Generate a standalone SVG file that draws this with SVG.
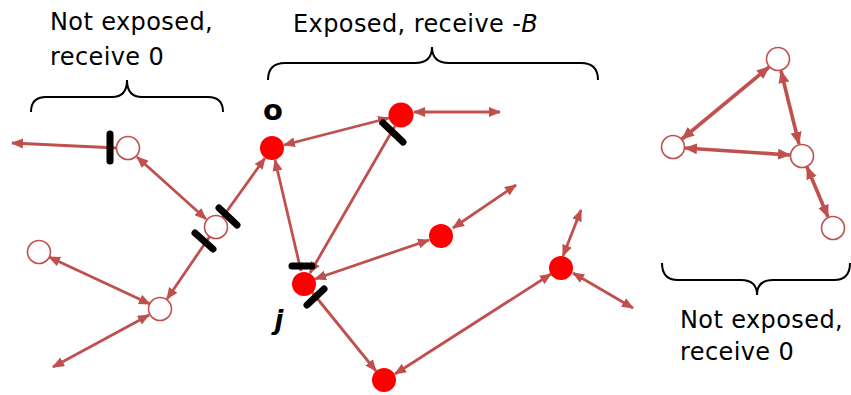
<svg xmlns="http://www.w3.org/2000/svg" width="851" height="395" viewBox="0 0 851 395">
<defs>
<marker id="ah" markerUnits="userSpaceOnUse" markerWidth="12" markerHeight="10" refX="11" refY="5" orient="auto-start-reverse"><path d="M0,0 L12,5 L0,10 z" fill="#C0504D"/></marker>
<marker id="ahb" markerUnits="userSpaceOnUse" markerWidth="13" markerHeight="11" refX="12" refY="5.5" orient="auto-start-reverse"><path d="M0,0 L13,5.5 L0,11 z" fill="#C0504D"/></marker>
<style>
.e{stroke:#C0504D;stroke-width:2.8;fill:none}
.eb{stroke:#C0504D;stroke-width:3.6;fill:none}
.s{marker-end:url(#ah)}
.d{marker-start:url(#ah);marker-end:url(#ah)}
.db{marker-start:url(#ahb);marker-end:url(#ahb)}
.h{fill:#fff;stroke:#C0504D;stroke-width:1.6}
.f{fill:#FF0000}
.bar{stroke:#000;stroke-width:7;stroke-linecap:round}
.br{fill:none;stroke:#000;stroke-width:2}
.t{font-family:"DejaVu Sans","Liberation Sans",sans-serif;font-size:24px;fill:#000;letter-spacing:0.4px}
.lb{font-family:"DejaVu Sans","Liberation Sans",sans-serif;font-weight:bold;fill:#000}
</style>
</defs>
<g id="connectors">
<line class="e s" x1="117" y1="148" x2="12" y2="143"/>
<line class="e d" x1="137" y1="157" x2="206" y2="219"/>
<line class="e s" x1="222" y1="218" x2="265" y2="158"/>
<line class="e s" x1="210" y1="236" x2="167" y2="299"/>
<line class="e d" x1="49" y1="257" x2="150" y2="304"/>
<line class="e d" x1="149" y1="315" x2="53" y2="367"/>
<line class="e d" x1="389" y1="118" x2="284" y2="145"/>
<line class="e d" x1="414" y1="112" x2="500" y2="112"/>
<line class="e s" x1="301" y1="271" x2="275" y2="160"/>
<line class="e s" x1="395" y1="126" x2="310" y2="273"/>
<line class="e d" x1="315" y1="279" x2="429" y2="240"/>
<line class="e d" x1="453" y1="228" x2="516" y2="185"/>
<line class="e d" x1="563" y1="256" x2="581" y2="210"/>
<line class="e d" x1="573" y1="273" x2="633" y2="308"/>
<line class="e s" x1="312" y1="292" x2="376" y2="371"/>
<line class="e d" x1="395" y1="374" x2="551" y2="274"/>
<line class="eb db" x1="769" y1="67" x2="682" y2="139"/>
<line class="eb db" x1="781" y1="71" x2="799" y2="144"/>
<line class="eb db" x1="685" y1="148" x2="790" y2="155"/>
<line class="eb db" x1="807" y1="167" x2="828" y2="217"/>
</g>
<g id="node-a"><circle class="h" cx="128" cy="148" r="11.5"/></g>
<g id="node-b"><circle class="h" cx="216" cy="227" r="11.5"/></g>
<g id="node-c"><circle class="h" cx="39" cy="252" r="11.5"/></g>
<g id="node-d"><circle class="h" cx="160" cy="309" r="11.5"/></g>
<g id="node-o"><circle class="f" cx="272" cy="148" r="12"/><text class="lb" x="273" y="120" font-size="29" text-anchor="middle">o</text></g>
<g id="node-e"><circle class="f" cx="401" cy="115" r="12.5"/></g>
<g id="node-j"><circle class="f" cx="304" cy="284" r="12"/><text class="lb" x="279" y="329" font-size="26" font-style="italic" text-anchor="middle">j</text></g>
<g id="node-f"><circle class="f" cx="441" cy="236" r="12"/></g>
<g id="node-g"><circle class="f" cx="561" cy="268" r="12"/></g>
<g id="node-h"><circle class="f" cx="384" cy="380" r="12"/></g>
<g id="node-p"><circle class="h" cx="778" cy="59" r="11.5"/></g>
<g id="node-q"><circle class="h" cx="673" cy="147" r="11.5"/></g>
<g id="node-r"><circle class="h" cx="802" cy="156" r="11.5"/></g>
<g id="node-s"><circle class="h" cx="833" cy="228" r="11.5"/></g>
<g id="cuts">
<line class="bar" x1="110" y1="134" x2="110" y2="161"/>
<line class="bar" x1="219" y1="208" x2="237" y2="225"/>
<line class="bar" x1="195" y1="233" x2="213" y2="249"/>
<line class="bar" x1="383" y1="123" x2="403" y2="142"/>
<line class="bar" x1="292" y1="266" x2="312" y2="266"/>
<line class="bar" x1="307" y1="305" x2="324" y2="289"/>
</g>
<g id="braces">
<path class="br" d="M31,112 Q31,97 46,97 L112,97 Q127,97 127,80 Q127,97 142,97 L208,97 Q223,97 223,112"/>
<path class="br" d="M268,80 Q268,63 285,63 L415,63 Q432,63 432,47 Q432,63 449,63 L581,63 Q598,63 598,80"/>
<path class="br" d="M662,263 Q662,280 678,280 L741,280 Q757,280 757,295 Q757,280 773,280 L834,280 Q850,280 850,263"/>
</g>
<g id="labels">
<text class="t" x="50" y="30">Not exposed,</text>
<text class="t" x="50" y="65">receive 0</text>
<text class="t" x="293" y="32" letter-spacing="0.5">Exposed, receive -<tspan font-style="italic">B</tspan></text>
<text class="t" x="680" y="328">Not exposed,</text>
<text class="t" x="680" y="360">receive 0</text>
</g>
</svg>
